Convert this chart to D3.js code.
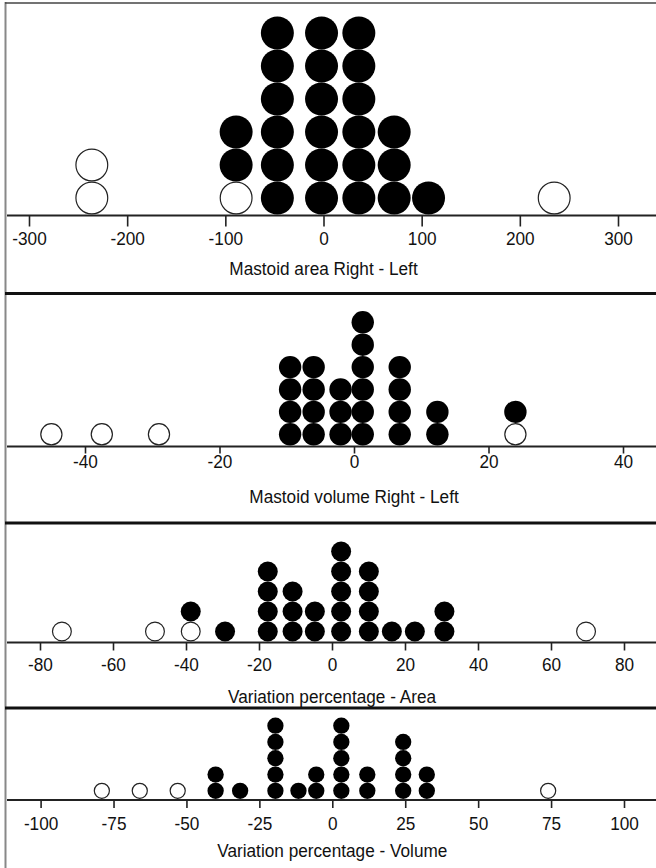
<!DOCTYPE html>
<html>
<head>
<meta charset="utf-8">
<script src="https://cdn.jsdelivr.net/npm/d3@7"></script>
<style>
  html, body { margin: 0; padding: 0; background: #fff; }
  svg { display: block; }
  text { font-family: "Liberation Sans", Arial, Helvetica, sans-serif; fill: #111; }
</style>
</head>
<body>
<svg id="chart" width="656" height="868"></svg>
<script>
// ---- Data ----
const titles = [
  "Mastoid area Right - Left",
  "Mastoid volume Right - Left",
  "Variation percentage - Area",
  "Variation percentage - Volume"
];

// Panel 1: Mastoid area Right - Left
const areaBins   = [-236, -89, -47, -2, 36, 72, 107, 235];
const areaOpen   = [2, 1, 0, 0, 0, 0, 0, 1];
const areaFilled = [0, 2, 6, 6, 6, 3, 1, 0];
const areaTicks  = [-300, -200, -100, 0, 100, 200, 300];

// Panel 2: Mastoid volume Right - Left
const volBins   = [-45, -37.5, -29, -9.5, -6, -2, 1.3, 6.8, 12.4, 24];
const volOpen   = [1, 1, 1, 0, 0, 0, 0, 0, 0, 1];
const volFilled = [0, 0, 0, 4, 4, 3, 6, 4, 2, 1];
const volTicks  = [-40, -20, 0, 20, 40];

// Panel 3: Variation percentage - Area
const varAreaBins   = [-74, -48.5, -38.7, -29.3, -17.6, -10.8, -4.7, 2.5, 10.1, 16.4, 22.7, 30.8, 69.6];
const varAreaOpen   = [1, 1, 1, 0, 0, 0, 0, 0, 0, 0, 0, 0, 1];
const varAreaFilled = [0, 0, 1, 1, 4, 3, 2, 5, 4, 1, 1, 2, 0];
const varAreaTicks  = [-80, -60, -40, -20, 0, 20, 40, 60, 80];

// Panel 4: Variation percentage - Volume
const varVolBins   = [-79, -66, -53, -40, -31.6, -19.5, -11.6, -5.5, 3.1, 12, 24.3, 32.4, 74];
const varVolOpen   = [1, 1, 1, 0, 0, 0, 0, 0, 0, 0, 0, 0, 1];
const varVolFilled = [0, 0, 0, 2, 1, 5, 1, 2, 5, 2, 4, 2, 0];
const varVolTicks  = [-100, -75, -50, -25, 0, 25, 50, 75, 100];

// ---- Layout ----
const W = 656, H = 868;
const FS = 18.5, SX = 0.93;
const svg = d3.select("#chart");

const panels = [
  { title: titles[0], bins: areaBins, open: areaOpen, filled: areaFilled, ticks: areaTicks,
    domain: [-300, 300], range: [29, 618], axisY: 215.5, tickLen: 11, labelY: 245, titleY: 275, r: 16.5 },
  { title: titles[1], bins: volBins, open: volOpen, filled: volFilled, ticks: volTicks,
    domain: [-40, 40], range: [85, 623], axisY: 446.5, tickLen: 7, labelY: 468, titleY: 503, r: 11.2 },
  { title: titles[2], bins: varAreaBins, open: varAreaOpen, filled: varAreaFilled, ticks: varAreaTicks,
    domain: [-80, 80], range: [40, 624], axisY: 642.5, tickLen: 8, labelY: 671, titleY: 703, r: 10 },
  { title: titles[3], bins: varVolBins, open: varVolOpen, filled: varVolFilled, ticks: varVolTicks,
    domain: [-100, 100], range: [40.6, 624], axisY: 800, tickLen: 8, labelY: 830, titleY: 857, r: 8.15 }
];

// frame
svg.append("line").attr("x1", 5.5).attr("x2", 5.5).attr("y1", 2).attr("y2", H)
  .attr("stroke", "#888").attr("stroke-width", 2);
svg.append("line").attr("x1", 5).attr("x2", W).attr("y1", 3).attr("y2", 3)
  .attr("stroke", "#444").attr("stroke-width", 1.5);
[293.5, 523, 708].forEach(y => {
  svg.append("line").attr("x1", 5).attr("x2", W).attr("y1", y).attr("y2", y)
    .attr("stroke", "#111").attr("stroke-width", 3);
});

panels.forEach(p => {
  const x = d3.scaleLinear().domain(p.domain).range(p.range);
  const g = svg.append("g");

  // axis baseline spanning whole width
  g.append("line").attr("x1", 7).attr("x2", W).attr("y1", p.axisY).attr("y2", p.axisY)
    .attr("stroke", "#222").attr("stroke-width", 2);

  const axis = d3.axisBottom(x).tickValues(p.ticks).tickSize(p.tickLen).tickSizeOuter(0)
    .tickFormat(d3.format("d"));
  const ax = g.append("g").attr("transform", `translate(0,${p.axisY})`).call(axis);
  ax.select(".domain").remove();
  ax.selectAll(".tick line").attr("stroke", "#222").attr("stroke-width", 1.6);
  ax.selectAll(".tick text")
    .attr("y", 0).attr("dy", 0)
    .attr("transform", `translate(0,${p.labelY - p.axisY}) scale(${SX},1)`)
    .attr("font-size", FS).attr("fill", "#111")
    .text(d => d < 0 ? "-" + Math.abs(d) : String(d));

  // title
  g.append("text")
    .attr("transform", `translate(${x(0)},${p.titleY}) scale(${SX},1)`)
    .attr("text-anchor", "middle").attr("font-size", FS).text(p.title);

  // dots: open at bottom, filled stacked above
  const dots = [];
  p.bins.forEach((v, i) => {
    let level = 0;
    for (let k = 0; k < p.open[i]; k++) dots.push({ v, level: level++, open: true });
    for (let k = 0; k < p.filled[i]; k++) dots.push({ v, level: level++, open: false });
  });
  const step = 2 * p.r;
  g.selectAll("circle.dot").data(dots).join("circle")
    .attr("class", "dot")
    .attr("cx", d => x(d.v))
    .attr("cy", d => p.axisY - 1 - p.r - d.level * step)
    .attr("r", d => d.open ? p.r - 0.6 : p.r)
    .attr("fill", d => d.open ? "#fff" : "#000")
    .attr("stroke", d => d.open ? "#222" : "none")
    .attr("stroke-width", 1.2);
});
</script>
</body>
</html>
